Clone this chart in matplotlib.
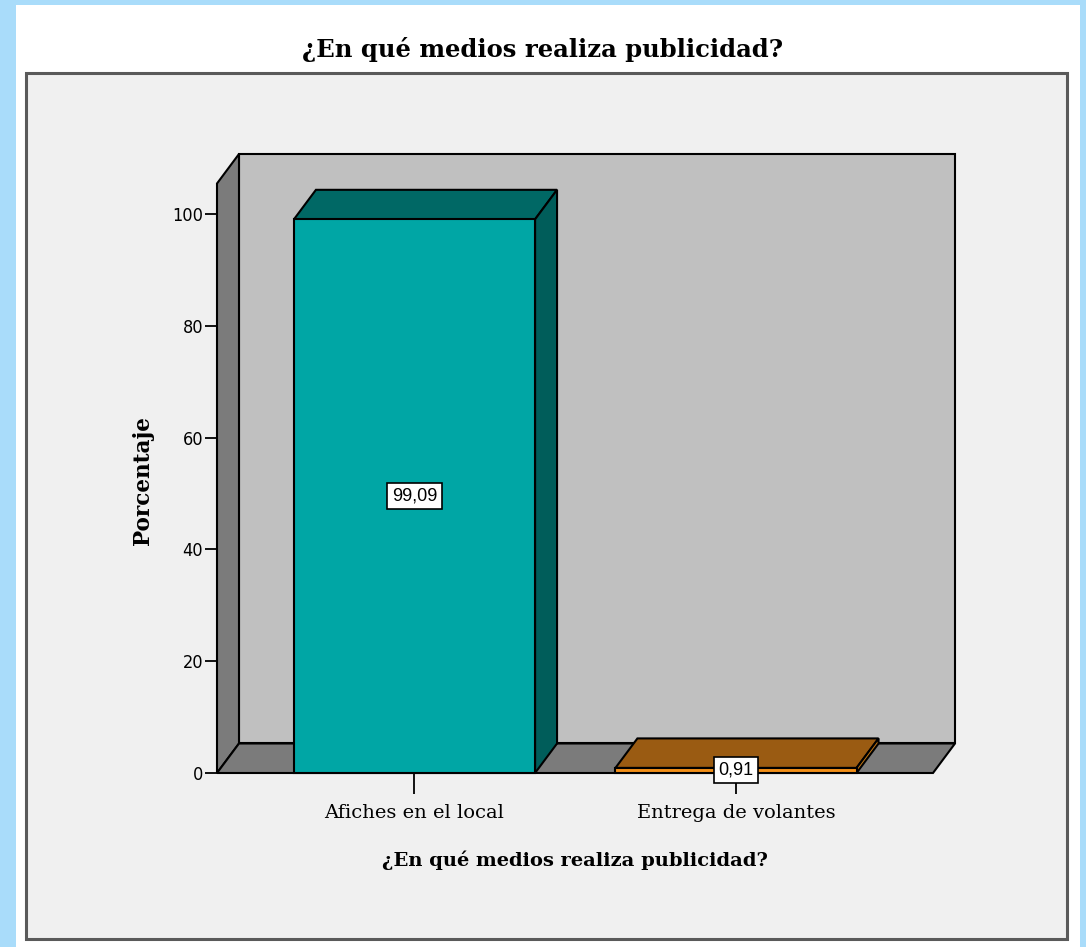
import matplotlib
matplotlib.use("Agg")
import matplotlib.pyplot as plt
from matplotlib.patches import Polygon, Rectangle

# data
categories = ["Afiches en el local", "Entrega de volantes"]
percentages = [99.09, 0.91]
front_colors = ["#00a6a5", "#f39019"]
top_colors = ["#006865", "#9a5b12"]
side_colors = ["#005d5a", "#c97a14"]
yticks = [0, 20, 40, 60, 80, 100]

title = "¿En qué medios realiza publicidad?"
ylabel = "Porcentaje"

W, H = 1086, 947
fig = plt.figure(figsize=(W / 100, H / 100), dpi=100)
fig.patch.set_facecolor("#a9dcfa")

# white panel + grey frame
fig.patches.append(Rectangle((16 / W, 0), (1080 - 16) / W, 1 - 5 / H,
                             transform=fig.transFigure, facecolor="white",
                             edgecolor="none", zorder=-3))
fig.patches.append(Rectangle((26 / W, 1 - 939 / H), (1067 - 26) / W, (939 - 73) / H,
                             transform=fig.transFigure, facecolor="#f0f0f0",
                             edgecolor="#5a5a5a", lw=2.2, zorder=-2))

# axes placed over the 3d box
ax = fig.add_axes([217 / W, 1 - 773 / H, (955 - 217) / W, (773 - 154) / H])
ax.set_facecolor("none")

x0, x1 = -0.6143, 1.6128      # front edge of floor
dx, dy = 0.0684, 5.28          # depth offset (data units)
wall_top = 105.5
bar_w = 0.75

ax.set_xlim(x0, x1 + dx)
ax.set_ylim(0, wall_top + dy)

edge = dict(edgecolor="black", lw=1.5, joinstyle="miter", clip_on=False)

# back wall, left wall, floor
ax.add_patch(Polygon([(x0 + dx, dy), (x1 + dx, dy), (x1 + dx, wall_top + dy),
                      (x0 + dx, wall_top + dy)], facecolor="#c0c0c0", **edge))
ax.add_patch(Polygon([(x0, 0), (x0, wall_top), (x0 + dx, wall_top + dy),
                      (x0 + dx, dy)], facecolor="#7b7b7b", **edge))
ax.add_patch(Polygon([(x0, 0), (x1, 0), (x1 + dx, dy), (x0 + dx, dy)],
                     facecolor="#7b7b7b", **edge))

# 3d bars
for i, v in enumerate(percentages):
    l, r = i - bar_w / 2, i + bar_w / 2
    ax.add_patch(Polygon([(l, v), (r, v), (r + dx, v + dy), (l + dx, v + dy)],
                         facecolor=top_colors[i], **edge))
    ax.add_patch(Polygon([(r, 0), (r + dx, dy), (r + dx, v + dy), (r, v)],
                         facecolor=side_colors[i], **edge))
    ax.add_patch(Rectangle((l, 0), bar_w, v, facecolor=front_colors[i], **edge))
    ax.text(i, v / 2, f"{v:.2f}".replace(".", ","), ha="center", va="center",
            fontsize=13, family="Liberation Sans", zorder=5,
            bbox=dict(boxstyle="square,pad=0.25", facecolor="white",
                      edgecolor="black", lw=1.2))

for s in ax.spines.values():
    s.set_visible(False)

ax.set_yticks(yticks)
ax.set_yticklabels([str(t) for t in yticks], family="DejaVu Sans",
                   stretch="condensed", fontsize=13)
ax.tick_params(axis="y", length=9, width=1.3, pad=1)
ax.set_xticks(range(len(categories)))
ax.set_xticklabels(categories, family="DejaVu Serif", fontsize=14)
ax.tick_params(axis="x", length=15, width=1.3, pad=7)

fig.text(543 / W, 1 - 50 / H, title, ha="center", va="center",
         family="DejaVu Serif", weight="bold", fontsize=17.5)
fig.text(575 / W, 1 - 860 / H, title, ha="center", va="center",
         family="DejaVu Serif", weight="bold", fontsize=14)
fig.text(143 / W, 1 - 481 / H, ylabel, ha="center", va="center", rotation=90,
         family="DejaVu Serif", weight="bold", fontsize=15.5)

fig.savefig("out.png", dpi=100, facecolor=fig.get_facecolor())
